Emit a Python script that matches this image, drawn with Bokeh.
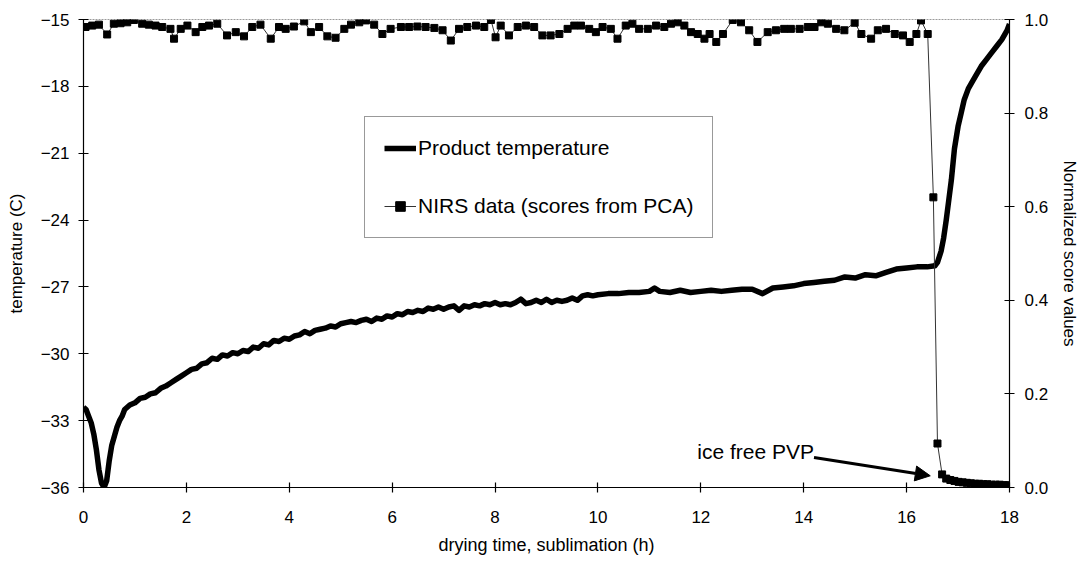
from bokeh.plotting import figure
from bokeh.models import (Range1d, LinearAxis, FixedTicker, Legend, LegendItem,
                          Arrow, NormalHead, Label, NumeralTickFormatter)
from bokeh.embed import file_html
from bokeh.resources import INLINE

# ---- data -----------------------------------------------------------------
TEMP_T = [0.00, 0.05, 0.10, 0.15, 0.20, 0.25, 0.30, 0.35, 0.40, 0.45,
          0.50, 0.55, 0.60, 0.65, 0.70, 0.75, 0.80, 0.85, 0.90, 1.00,
          1.10, 1.20, 1.30, 1.40, 1.50, 1.60, 1.70, 1.80, 1.90, 2.00,
          2.10, 2.20, 2.30, 2.40, 2.50, 2.60, 2.70, 2.80, 2.90, 3.00,
          3.10, 3.20, 3.30, 3.40, 3.50, 3.60, 3.70, 3.80, 3.90, 4.00,
          4.10, 4.20, 4.30, 4.40, 4.50, 4.60, 4.70, 4.80, 4.90, 5.00,
          5.10, 5.20, 5.30, 5.40, 5.50, 5.60, 5.70, 5.80, 5.90, 6.00,
          6.10, 6.20, 6.30, 6.40, 6.50, 6.60, 6.70, 6.80, 6.90, 7.00,
          7.10, 7.20, 7.30, 7.40, 7.50, 7.60, 7.70, 7.80, 7.90, 8.00,
          8.10, 8.20, 8.30, 8.40, 8.50, 8.60, 8.70, 8.80, 8.90, 9.00,
          9.10, 9.20, 9.30, 9.40, 9.50, 9.60, 9.70, 9.80, 9.90, 10.00,
          10.20, 10.40, 10.60, 10.80, 11.00, 11.10, 11.20, 11.40, 11.60, 11.80,
          12.00, 12.20, 12.40, 12.60, 12.80, 13.00, 13.20, 13.40, 13.60, 13.80,
          14.00, 14.20, 14.40, 14.60, 14.80, 15.00, 15.20, 15.40, 15.60, 15.80,
          16.00, 16.20, 16.40, 16.55, 16.60, 16.67, 16.72, 16.77, 16.82, 16.87,
          16.93, 17.00, 17.06, 17.12, 17.20, 17.30, 17.45, 17.55, 17.65, 17.75,
          17.85, 17.95, 18.00]
TEMP_C = [-32.4, -32.5, -32.8, -33.1, -33.6, -34.3, -35.2, -35.8, -36.0, -35.7,
          -34.8, -34.1, -33.7, -33.3, -33.0, -32.8, -32.5, -32.4, -32.3, -32.2,
          -32.0, -31.95, -31.8, -31.75, -31.55, -31.45, -31.3, -31.15, -31.0, -30.85,
          -30.7, -30.65, -30.45, -30.4, -30.2, -30.25, -30.05, -30.1, -29.95, -30.0,
          -29.85, -29.9, -29.7, -29.75, -29.55, -29.6, -29.4, -29.45, -29.3, -29.35,
          -29.2, -29.15, -29.0, -29.1, -28.95, -28.9, -28.85, -28.75, -28.8, -28.65,
          -28.6, -28.55, -28.6, -28.5, -28.45, -28.55, -28.4, -28.45, -28.3, -28.35,
          -28.2, -28.25, -28.1, -28.15, -28.05, -28.1, -27.95, -28.0, -27.9, -28.0,
          -27.9, -27.85, -28.05, -27.85, -27.9, -27.8, -27.85, -27.75, -27.8, -27.7,
          -27.8, -27.75, -27.8, -27.7, -27.55, -27.75, -27.7, -27.6, -27.7, -27.55,
          -27.7, -27.6, -27.65, -27.6, -27.5, -27.6, -27.4, -27.35, -27.4, -27.35,
          -27.3, -27.3, -27.25, -27.25, -27.2, -27.05, -27.2, -27.25, -27.15, -27.25,
          -27.2, -27.15, -27.2, -27.15, -27.1, -27.1, -27.3, -27.05, -27.0, -26.95,
          -26.85, -26.8, -26.75, -26.7, -26.55, -26.6, -26.45, -26.5, -26.35, -26.2,
          -26.15, -26.1, -26.1, -26.05, -25.9, -25.4, -24.8, -24.0, -23.1, -22.2,
          -20.8, -19.8, -19.2, -18.6, -18.1, -17.7, -17.1, -16.8, -16.5, -16.2,
          -15.9, -15.5, -15.2]

NIRS_T = [0.04, 0.17, 0.30, 0.46, 0.59, 0.72, 0.85, 0.98, 1.14, 1.27,
          1.40, 1.53, 1.69, 1.76, 1.89, 2.02, 2.18, 2.31, 2.44, 2.60,
          2.79, 2.96, 3.12, 3.28, 3.44, 3.64, 3.80, 3.93, 4.09, 4.29,
          4.42, 4.58, 4.74, 4.90, 5.07, 5.20, 5.36, 5.49, 5.65, 5.81,
          5.97, 6.17, 6.33, 6.49, 6.65, 6.82, 6.98, 7.14, 7.30, 7.46,
          7.63, 7.79, 7.92, 8.01, 8.11, 8.27, 8.44, 8.60, 8.76, 8.92,
          9.08, 9.25, 9.41, 9.54, 9.67, 9.83, 9.96, 10.09, 10.25, 10.38,
          10.54, 10.67, 10.80, 10.97, 11.13, 11.29, 11.42, 11.55, 11.68, 11.81,
          11.94, 12.07, 12.17, 12.30, 12.43, 12.62, 12.78, 12.94, 13.10, 13.30,
          13.46, 13.62, 13.75, 13.92, 14.08, 14.21, 14.34, 14.47, 14.63, 14.79,
          14.99, 15.12, 15.31, 15.44, 15.60, 15.77, 15.93, 16.06, 16.19, 16.28,
          16.41, 16.52, 16.60, 16.69, 16.77, 16.85, 16.93, 17.01, 17.09, 17.17,
          17.25, 17.33, 17.41, 17.49, 17.57, 17.65, 17.73, 17.81, 17.89, 17.97]
NIRS_S = [0.984, 0.987, 0.989, 0.968, 0.991, 0.992, 0.994, 0.999, 0.991, 0.989,
          0.987, 0.984, 0.980, 0.959, 0.980, 0.987, 0.973, 0.984, 0.987, 0.991,
          0.966, 0.973, 0.964, 0.984, 0.989, 0.959, 0.984, 0.980, 0.985, 0.996,
          0.973, 0.984, 0.964, 0.961, 0.980, 0.989, 0.994, 0.998, 0.989, 0.969,
          0.980, 0.984, 0.984, 0.985, 0.984, 0.982, 0.977, 0.955, 0.980, 0.984,
          0.987, 0.984, 0.999, 0.962, 0.987, 0.966, 0.984, 0.987, 0.984, 0.966,
          0.966, 0.969, 0.980, 0.987, 0.987, 0.980, 0.973, 0.984, 0.980, 0.959,
          0.987, 0.991, 0.980, 0.980, 0.987, 0.984, 0.991, 0.994, 0.987, 0.973,
          0.969, 0.959, 0.969, 0.952, 0.969, 0.999, 0.994, 0.977, 0.952, 0.973,
          0.977, 0.980, 0.980, 0.980, 0.984, 0.984, 0.994, 0.991, 0.980, 0.977,
          0.993, 0.969, 0.959, 0.977, 0.980, 0.969, 0.966, 0.952, 0.969, 0.998,
          0.969, 0.620, 0.094, 0.028, 0.019, 0.016, 0.014, 0.012, 0.011, 0.010,
          0.009, 0.008, 0.008, 0.007, 0.007, 0.006, 0.006, 0.006, 0.005, 0.005]

X_TICKS = [0, 2, 4, 6, 8, 10, 12, 14, 16, 18]
TEMP_TICKS = [-36, -33, -30, -27, -24, -21, -18, -15]
SCORE_TICKS = [0.0, 0.2, 0.4, 0.6, 0.8, 1.0]

ANNOT_TEXT = "ice free PVP"
ARROW_FROM = (14.2, 0.064)
ARROW_TO = (16.46, 0.025)

FONT = "Liberation Sans"

# ---- figure ---------------------------------------------------------------
p = figure(width=1085, height=561, output_backend="svg", toolbar_location=None,
           x_range=Range1d(0, 18), y_range=Range1d(-36, -15),
           min_border_left=83, min_border_right=76, min_border_top=19,
           min_border_bottom=74)
p.extra_y_ranges = {"score": Range1d(0, 1)}
p.grid.visible = False
p.background_fill_color = "white"
p.border_fill_color = "white"
p.outline_line_color = "#9a9a9a"
p.outline_line_width = 1
p.outline_line_dash = "2 1"

def style_axis(ax):
    ax.axis_line_color = "black"
    ax.axis_line_width = 1.2
    ax.major_tick_line_color = "black"
    ax.major_tick_line_width = 1.2
    ax.major_tick_in = 5
    ax.major_tick_out = 5
    ax.minor_tick_line_color = None
    ax.major_label_text_font = FONT
    ax.major_label_text_font_size = "17px"
    ax.major_label_text_color = "black"
    ax.axis_label_text_font = FONT
    ax.axis_label_text_font_size = "17px"
    ax.axis_label_text_font_style = "normal"
    ax.axis_label_text_color = "black"

xa = p.xaxis[0]
style_axis(xa)
xa.ticker = FixedTicker(ticks=X_TICKS)
xa.axis_label = "drying time, sublimation (h)"
xa.axis_label_text_font_size = "18px"
xa.major_label_standoff = 18
xa.axis_label_standoff = 9

ya = p.yaxis[0]
style_axis(ya)
ya.ticker = FixedTicker(ticks=TEMP_TICKS)
ya.axis_label = "temperature (C)"
ya.major_label_standoff = 9
ya.axis_label_standoff = 12

ra = LinearAxis(y_range_name="score", axis_label="Normalized score values")
style_axis(ra)
ra.ticker = FixedTicker(ticks=SCORE_TICKS)
ra.formatter = NumeralTickFormatter(format="0.0")
ra.major_label_standoff = 10
ra.axis_label_standoff = 9
p.add_layout(ra, "right")

temp_line = p.line(TEMP_T, TEMP_C, line_color="black", line_width=5.5,
                   line_join="round")
nirs_line = p.line(NIRS_T, NIRS_S, y_range_name="score", line_color="#333333",
                   line_width=1)
nirs_pts = p.scatter(NIRS_T, NIRS_S, y_range_name="score", marker="square",
                     size=7, fill_color="black", line_color="black")

legend = Legend(items=[
    LegendItem(label="Product temperature", renderers=[temp_line]),
    LegendItem(label="NIRS data (scores from PCA)", renderers=[nirs_line, nirs_pts]),
], location=(281, 249))
legend.label_text_font = FONT
legend.label_text_font_size = "21px"
legend.label_text_color = "black"
legend.glyph_width = 32
legend.glyph_height = 24
legend.label_height = 24
legend.label_standoff = 2
legend.spacing = 34
legend.padding = 19
legend.margin = 0
legend.border_line_color = "#333333"
legend.border_line_width = 1
legend.background_fill_color = "white"
legend.background_fill_alpha = 1
p.add_layout(legend)

arrow = Arrow(end=NormalHead(size=15, fill_color="black", line_color="black"),
              x_start=ARROW_FROM[0], y_start=ARROW_FROM[1],
              x_end=ARROW_TO[0], y_end=ARROW_TO[1],
              y_range_name="score", line_width=3, line_color="black")
p.add_layout(arrow)

lab = Label(x=ARROW_FROM[0], y=ARROW_FROM[1] + 0.012, y_range_name="score",
            text=ANNOT_TEXT, text_align="right", text_baseline="middle",
            text_font=FONT, text_font_size="21px", text_color="black")
p.add_layout(lab)

open("out.html", "w").write(file_html(p, INLINE))
